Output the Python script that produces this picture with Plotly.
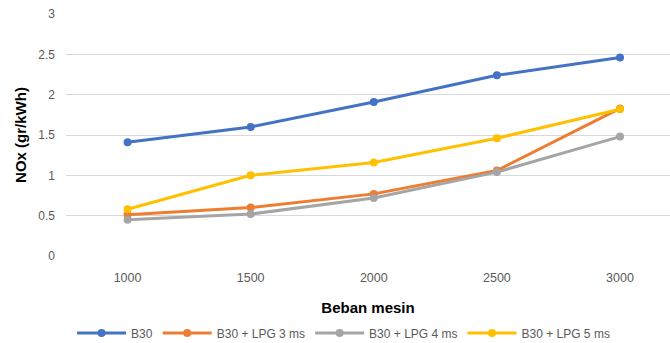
import plotly.graph_objects as go

# Engine load (x categories) and NOx emission per fuel mix
beban = ["1000", "1500", "2000", "2500", "3000"]
nox_b30 = [1.41, 1.60, 1.91, 2.24, 2.46]
nox_lpg3 = [0.51, 0.60, 0.77, 1.06, 1.83]
nox_lpg4 = [0.45, 0.52, 0.72, 1.04, 1.48]
nox_lpg5 = [0.58, 1.00, 1.16, 1.46, 1.82]
y_ticks = [0, 0.5, 1, 1.5, 2, 2.5, 3]

series = [
    ("B30", nox_b30, "#4472C4"),
    ("B30 + LPG 3 ms", nox_lpg3, "#ED7D31"),
    ("B30 + LPG 4 ms", nox_lpg4, "#A5A5A5"),
    ("B30 + LPG 5 ms", nox_lpg5, "#FFC000"),
]

fig = go.Figure()
for name, vals, color in series:
    fig.add_trace(go.Scatter(
        x=list(range(len(beban))), y=vals, name=name, mode="lines+markers",
        line=dict(color=color, width=3),
        marker=dict(color=color, size=8),
    ))

font_main = "Liberation Sans"
fig.update_layout(
    width=670, height=343,
    margin=dict(l=66, r=0, t=14, b=87, autoexpand=False),
    paper_bgcolor="white", plot_bgcolor="white",
    font=dict(family=font_main, color="#595959", size=12),
    xaxis=dict(
        tickmode="array", tickvals=list(range(len(beban))), ticktext=beban,
        range=[-0.5, 4.406], showgrid=False, zeroline=False, showline=False,
        ticks="", ticklabelstandoff=12, tickfont=dict(size=12.5, color="#595959"),
        title=dict(text="<b>Beban mesin</b>", font=dict(size=15, color="#000000"), standoff=18),
    ),
    yaxis=dict(
        range=[0, 3], tickvals=y_ticks, ticktext=[f"{v:g}" for v in y_ticks],
        showgrid=True, gridcolor="#D9D9D9", gridwidth=1,
        zeroline=False, showline=False, ticks="", ticklabelstandoff=10,
        tickfont=dict(size=12, color="#595959"),
        title=dict(text="<b>NOx (gr/kWh)</b>", font=dict(size=15, color="#000000"), standoff=8),
    ),
    legend=dict(
        orientation="h", x=0.01, xanchor="left",
        yref="container", y=(343 - 333) / 343, yanchor="middle",
        font=dict(size=12, color="#595959"), itemwidth=49, tracegroupgap=0,
    ),
)

fig.write_html("out.html")
